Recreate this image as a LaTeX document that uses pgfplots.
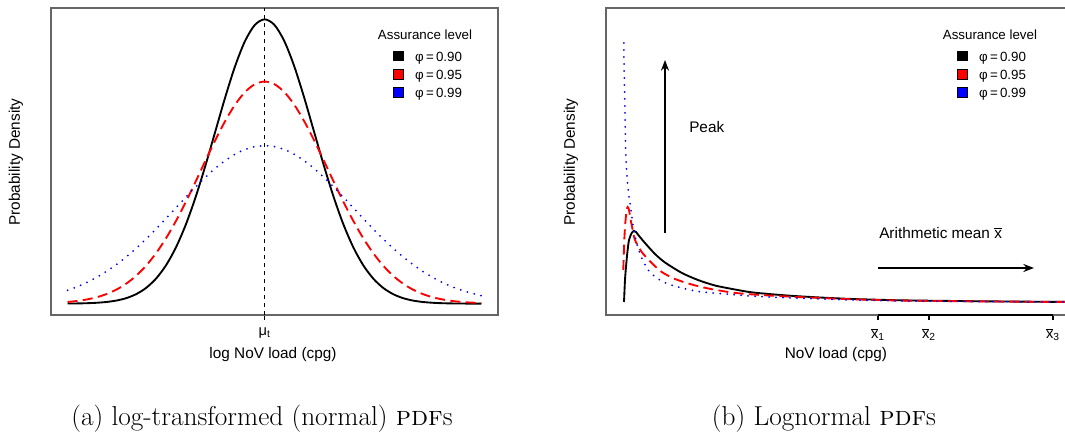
\documentclass[border=0pt]{standalone}
\usepackage{fontspec}
\newfontfamily\hv{Liberation Sans}
\usepackage{pgfplots}
\usepackage{pgfplotstable}
\pgfplotsset{compat=1.18}
\usetikzlibrary{arrows.meta}

\definecolor{rblue}{RGB}{0,0,255}
\definecolor{rred}{RGB}{255,0,0}

% (a) densities on the log scale, x in units of the narrowest sd
\pgfplotstableread{
x     b      r      u
-4.0  0.0003 0.0059 0.0470
-3.8  0.0007 0.0095 0.0598
-3.6  0.0015 0.0150 0.0752
-3.4  0.0031 0.0229 0.0933
-3.2  0.0060 0.0343 0.1144
-3.0  0.0111 0.0501 0.1385
-2.8  0.0198 0.0714 0.1657
-2.6  0.0340 0.0993 0.1957
-2.4  0.0561 0.1347 0.2284
-2.2  0.0889 0.1784 0.2632
-2.0  0.1353 0.2305 0.2997
-1.8  0.1979 0.2907 0.3370
-1.6  0.2780 0.3577 0.3743
-1.4  0.3753 0.4296 0.4106
-1.2  0.4868 0.5034 0.4449
-1.0  0.6065 0.5758 0.4761
-0.8  0.7261 0.6426 0.5033
-0.6  0.8353 0.7000 0.5256
-0.4  0.9231 0.7440 0.5420
-0.2  0.9802 0.7718 0.5522
 0.0  1.0000 0.7813 0.5556
 0.2  0.9802 0.7718 0.5522
 0.4  0.9231 0.7440 0.5420
 0.6  0.8353 0.7000 0.5256
 0.8  0.7261 0.6426 0.5033
 1.0  0.6065 0.5758 0.4761
 1.2  0.4868 0.5034 0.4449
 1.4  0.3753 0.4296 0.4106
 1.6  0.2780 0.3577 0.3743
 1.8  0.1979 0.2907 0.3370
 2.0  0.1353 0.2305 0.2997
 2.2  0.0889 0.1784 0.2632
 2.4  0.0561 0.1347 0.2284
 2.6  0.0340 0.0993 0.1957
 2.8  0.0198 0.0714 0.1657
 3.0  0.0111 0.0501 0.1385
 3.2  0.0060 0.0343 0.1144
 3.4  0.0031 0.0229 0.0933
 3.6  0.0015 0.0150 0.0752
 3.8  0.0007 0.0095 0.0598
 4.0  0.0003 0.0059 0.0470
 4.2  0.0001 0.0036 0.0365
 4.4  0.0000 0.0021 0.0280
}\normdat

% (b) lognormal densities
\pgfplotstableread{
x     y
18    2
19    24
20    37
21.3  51
23    64
25.7  71
28    73
30    72
32.3  69
39    61
49    50
59    41.5
76    31
92    24
109   18.5
129   14.5
147   11.5
181   8.5
214   6.5
247   5
294   3.7
350   3
400   2.5
470   2
}\lnblack

\pgfplotstableread{
x     y
17.3  34
17.7  47
18.3  64
19.3  81
20.7  94
21.7  97
23    94
24.7  84
26.3  76
29    64
35.7  52
45.7  41
55.7  32
69    25
85.7  19.5
102.3 15.5
125.7 11.5
147   9.5
181   7.5
214   6
247   4.7
294   3.5
350   2.8
400   2.4
470   2
}\lnred

\pgfplotstableread{
x     y
17.8  261
18.2  231
18.7  207
19.3  174
20.1  141
22.5  111
25    94
27.3  77
30.7  61
35.7  46
42.3  34
50.7  26
62.3  20
75.7  16
92.3  12.5
109   10.8
125.7 9.5
147   7.8
181   6.2
214   5
247   4
294   3.1
350   2.6
400   2.3
470   2
}\lnblue

\pgfplotsset{
  pdfbase/.style={
    scale only axis, height=230.25pt,
    axis line style={black!60, line width=0.8pt},
    ytick=\empty, xtick pos=bottom, tick align=outside,
    major tick length=3.75pt,
    every tick/.style={black, line width=0.8pt},
    xticklabel style={font=\hv\fontsize{11}{13}\selectfont, anchor=north, yshift=-2.5pt},
    label style={font=\hv\fontsize{11.5}{14}\selectfont},
    no markers,
    legend style={draw=none, fill=none, inner sep=0pt, outer sep=0pt,
      row sep=0pt, anchor=north west,
      font=\hv\fontsize{10}{12}\selectfont,
      nodes={inner sep=0pt, text height=7.2pt, text depth=5.55pt},
      cells={anchor=west},
      /tikz/every odd column/.append style={column sep=9pt}},
    legend image code/.code={\draw[#1, draw=black, line width=0.4pt, solid] (0pt,0pt) rectangle (7pt,7pt);},
  },
  blk/.style={black, line width=1.4pt},
  rdash/.style={rred, line width=1.4pt, dash pattern=on 7.5pt off 4pt},
  bdot/.style={rblue, line width=1.5pt, line cap=round, dash pattern=on 0pt off 5.25pt},
}

\begin{document}
\begin{tikzpicture}
\begin{axis}[pdfbase,
  at={(38.25pt,-236.25pt)}, anchor=south west, width=335.25pt,
  xmin=-4.336, xmax=4.736, ymin=-0.04, ymax=1.04,
  xtick={0}, xticklabels={μ\textsubscript{t}},
  xlabel={log NoV load (cpg)}, ylabel={Probability Density},
  xlabel style={at={(axis description cs:0.4966,-0.1303)}, anchor=center},
  ylabel style={at={(axis description cs:-0.0783,0.498)}, anchor=center},
  legend style={at={(axis description cs:0.7658,0.8596)}},
]
\draw[black, line width=0.8pt, dash pattern=on 3pt off 3pt] (axis cs:0,-0.04) -- (axis cs:0,1.04);
\addplot[blk, smooth, forget plot] table[x=x, y=b] {\normdat};
\addplot[rdash, smooth, forget plot] table[x=x, y=r] {\normdat};
\addplot[bdot, smooth, forget plot] table[x=x, y=u] {\normdat};
\addlegendimage{fill=black}
\addlegendentry{φ\,=\,0.90}
\addlegendimage{fill=rred}
\addlegendentry{φ\,=\,0.95}
\addlegendimage{fill=rblue}
\addlegendentry{φ\,=\,0.99}
\node[font=\hv\fontsize{10}{12}\selectfont] at (axis description cs:0.8367,0.912) {Assurance level};
\end{axis}

\begin{axis}[pdfbase,
  at={(454.5pt,-236.25pt)}, anchor=south west, width=355.5pt,
  xmin=0, xmax=474, ymin=-11, ymax=296, clip=false,
  xtick={272,323,447},
  xticklabels={{$\overline{\hbox{x}}$\textsubscript{1}},{$\overline{\hbox{x}}$\textsubscript{2}},{$\overline{\hbox{x}}$\textsubscript{3}}},
  xlabel={NoV load (cpg)}, ylabel={Probability Density},
  xlabel style={at={(axis description cs:0.4852,-0.1303)}, anchor=center},
  ylabel style={at={(axis description cs:-0.0738,0.498)}, anchor=center},
  legend style={at={(axis description cs:0.7412,0.8596)}},
]
\draw[black, line width=0.8pt] (axis cs:272,-11) -- (axis cs:447,-11);
\addplot[blk, smooth, tension=0.45, forget plot] table {\lnblack};
\addplot[rdash, smooth, tension=0.45, forget plot] table {\lnred};
\addplot[bdot, smooth, tension=0.45, forget plot] table {\lnblue};
\draw[line width=1.4pt, -{Stealth[length=8pt, width=6pt]}] (axis cs:59,71) -- (axis cs:59,244);
\draw[line width=1.4pt, -{Stealth[length=8pt, width=6pt]}] (axis cs:272,36) -- (axis cs:428,36);
\node[anchor=west, inner sep=0pt, font=\hv\fontsize{11.5}{14}\selectfont] at (axis cs:83,177) {Peak};
\node[anchor=west, inner sep=0pt, font=\hv\fontsize{11.5}{14}\selectfont] at (axis cs:273,71) {Arithmetic mean $\overline{\hbox{x}}$};
\addlegendimage{fill=black}
\addlegendentry{φ\,=\,0.90}
\addlegendimage{fill=rred}
\addlegendentry{φ\,=\,0.95}
\addlegendimage{fill=rblue}
\addlegendentry{φ\,=\,0.99}
\node[font=\hv\fontsize{10}{12}\selectfont] at (axis description cs:0.810,0.912) {Assurance level};
\end{axis}

\node[anchor=base, font=\fontsize{20.5}{23}\selectfont] at (196.5pt,-319pt) {(a) log-transformed (normal) \textsc{pdf}s};
\node[anchor=base, font=\fontsize{20.5}{23}\selectfont] at (618pt,-319pt) {(b) Lognormal \textsc{pdf}s};

\pgfresetboundingbox
\useasboundingbox (0pt,0pt) rectangle (798.75pt,-325.5pt);
\end{tikzpicture}
\end{document}
